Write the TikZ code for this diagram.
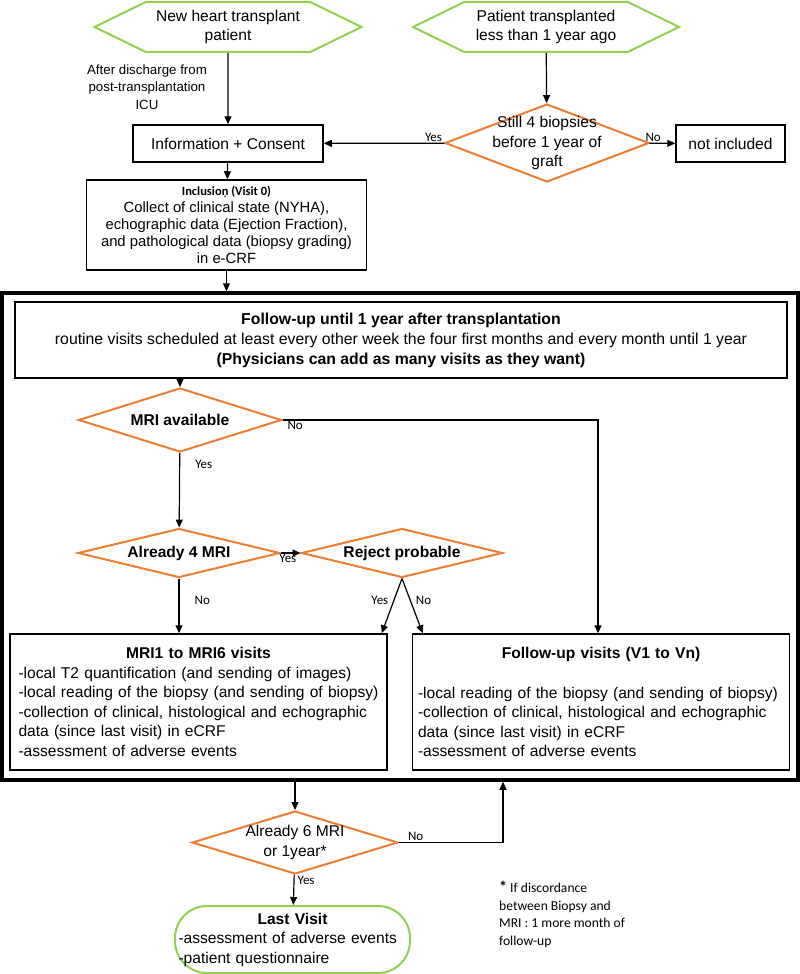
\documentclass[tikz,border=0pt]{standalone}
\usepackage{fontspec}
\setmainfont{Liberation Sans}
\newfontfamily\calib{Carlito}
\usetikzlibrary{positioning, arrows.meta, shapes.geometric, shapes.symbols}
\definecolor{hexgreen}{RGB}{146,208,80}
\definecolor{decorange}{RGB}{237,125,49}

\begin{document}
\begin{tikzpicture}[x=1pt, y=-1pt,
    hexa/.style={signal, signal to=east and west, signal pointer angle=52, draw=hexgreen, line width=2pt, align=center, inner sep=0pt, font=\fontsize{15.6}{19.5}\selectfont},
    dec/.style={diamond, draw=decorange, line width=2pt, inner sep=0pt},
    dectext/.style={align=center, font=\fontsize{15.6}{19.5}\selectfont},
    box/.style={rectangle, draw, line width=1.5pt, inner sep=0pt, font=\fontsize{15.6}{19.5}\selectfont},
    arrow/.style={-{Triangle[length=8pt, width=7pt]}, line width=1.2pt},
    yn/.style={font=\calib\fontsize{13}{15}\selectfont, inner sep=1pt}
]
    \useasboundingbox (0,0) rectangle (800,974);

    % entry
    \node[hexa, minimum width=267, minimum height=50] (newpat) at (228,27) {New heart transplant\\patient};
    \node[hexa, minimum width=266, minimum height=50] (oldpat) at (546,27) {Patient transplanted\\less than 1 year ago};
    \node[box, minimum width=190, minimum height=37] (info) at (228,143.5) {Information + Consent};
    \node[dec, minimum width=204, minimum height=78, label={[dectext]center:{Still 4 biopsies\\before 1 year of\\graft}}] (biop) at (547,143) {};
    \node[box, minimum width=109, minimum height=37] (notinc) at (730.5,143.5) {not included};
    \node[align=center, font=\fontsize{13.3}{17.5}\selectfont] (discharge) at (147,87) {After discharge from\\post-transplantation\\ICU};
    \node[box, minimum width=280, minimum height=90, align=center, font=\fontsize{14.8}{17}\selectfont] (incl) at (226.5,225)
        {{\calib\bfseries\fontsize{12.5}{17}\selectfont Inclusioņ (Visit 0)}\\Collect of clinical state (NYHA),\\echographic data (Ejection Fraction),\\and pathological data (biopsy grading)\\in e-CRF};

    \draw[arrow] (newpat) -- (info);
    \draw[arrow] (oldpat) -- (biop);
    \draw[arrow] (biop) -- node[yn, pos=0.09, above] {Yes} (info);
    \draw[arrow] (biop) -- node[yn, pos=0.15, above] {No} (notinc);
    \draw[arrow] (info) -- (incl);

    % follow-up
    \node[box, line width=3.5pt, minimum width=796, minimum height=487] (outer) at (400,536.5) {};
    \node[box, line width=2.5pt, minimum width=772, minimum height=76, align=center, font=\fontsize{15.8}{20}\selectfont] (fu) at (401,340)
        {\textbf{Follow-up until 1 year after transplantation}\\routine visits scheduled at least every other week the four first months and every month until 1 year\\\textbf{(Physicians can add as many visits as they want)}};
    \node[dec, minimum width=203, minimum height=64, label={[dectext]center:\textbf{MRI available}}] (mriav) at (180,420) {};
    \node[dec, minimum width=202, minimum height=49, label={[dectext]center:\textbf{Already 4 MRI}}] (four) at (179,553) {};
    \node[dec, minimum width=201, minimum height=49, label={[dectext]center:\textbf{Reject probable}}] (reject) at (402,553) {};
    \node[box, minimum width=377, minimum height=136, text width=360pt, align=left] (mrivis) at (198.5,702)
        {{\centering\bfseries MRI1 to MRI6 visits\par}
        -local T2 quantification (and sending of images)\\
        -local reading of the biopsy (and sending of biopsy)\\
        -collection of clinical, histological and echographic\\
        data (since last visit) in eCRF\\
        -assessment of adverse events};
    \node[box, minimum width=377, minimum height=136, text width=366pt, align=left] (fuvis) at (601,702)
        {{\centering\bfseries Follow-up visits (V1 to Vn)\par}\vspace{20pt}
        -local reading of the biopsy (and sending of biopsy)\\
        -collection of clinical, histological and echographic\\
        data (since last visit) in eCRF\\
        -assessment of adverse events};

    \draw[arrow] (incl) -- (incl.south |- outer.north);
    \draw[arrow] (mriav.north |- fu.south) -- (mriav);
    \draw[arrow] (mriav) -- node[yn, pos=0.16, right=14pt] {Yes} (four);
    \draw[arrow] (mriav) -| node[yn, pos=0.02, below] {No} ([xshift=-3pt]fuvis.north);
    \draw[arrow] (four) -- node[yn, pos=0.35, below] {Yes} (reject);
    \draw[arrow] (four) -- node[yn, pos=0.4, right=14pt] {No} (four.south |- mrivis.north);
    \draw[arrow] (reject.south) -- node[yn, pos=0.4, left=4pt] {Yes} ([xshift=-6pt]mrivis.north east);
    \draw[arrow] (reject.south) -- node[yn, pos=0.4, right=4pt] {No} ([xshift=11pt]fuvis.north west);

    % end
    \node[dec, minimum width=206, minimum height=63, label={[dectext]center:{Already 6 MRI\\or 1year*}}] (six) at (295,842.5) {};
    \node[box, draw=hexgreen, line width=2pt, rounded corners=32pt, minimum width=235, minimum height=67, text width=228pt, align=left] (last) at (292.5,939.5)
        {{\centering\bfseries Last Visit\par}
        -assessment of adverse events\\
        -patient questionnaire};
    \node[anchor=north west, align=left, inner sep=2pt, font=\calib\fontsize{13.6}{17.5}\selectfont] (note) at (497,879)
        {{\bfseries\fontsize{16}{17.5}\selectfont *} If discordance\\between Biopsy and\\MRI : 1 more month of\\follow-up};

    \draw[arrow] (six.north |- outer.south) -- (six);
    \draw[arrow] (six) -| node[yn, pos=0.08, above] {No} ([xshift=103pt]outer.south);
    \draw[arrow] (six) -- node[yn, pos=0.2, right=2pt] {Yes} (last);
\end{tikzpicture}
\end{document}
